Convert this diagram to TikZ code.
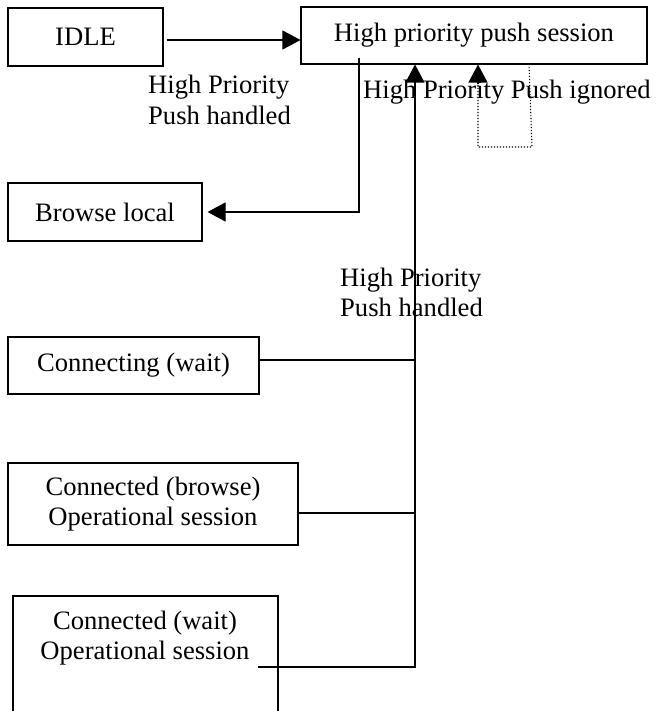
\documentclass[tikz,border=0pt]{standalone}
\usepackage{fontspec}
\setmainfont{Liberation Serif}
\usetikzlibrary{arrows.meta}
\begin{document}
\begin{tikzpicture}[x=1pt,y=-1pt,
  every node/.style={font=\fontsize{26.6pt}{30.5pt}\selectfont},
  state/.style={draw, line width=1.1pt, rectangle, inner sep=0pt, align=center},
  lbl/.style={inner sep=0pt, align=left, anchor=west},
  conn/.style={line width=1.1pt},
  arr/.style={conn, -{Triangle[length=18pt,width=19pt]}},
  dotline/.style={line width=1.1pt, dash pattern=on 1.1pt off 1.9pt},
]
\clip (0,0) rectangle (659,711);
\fill[white] (0,0) rectangle (659,711);
% states
\node[state, minimum width=155pt, minimum height=58pt] (idle) at (85.5,37) {IDLE};
\node[state, minimum width=346pt, minimum height=57pt] (hp) at (474,35.5) {High priority push session};
\node[state, minimum width=194pt, minimum height=58pt] (browse) at (105,212) {Browse local};
\node[state, minimum width=251pt, minimum height=57pt] (connecting) at (133.5,365.5) {Connecting (wait)};
\node[state, minimum width=290pt, minimum height=82pt] (cbrowse) at (153,504) {Connected (browse)\\Operational session};
\node[state, minimum width=265pt, minimum height=150pt] (cwait) at (145.5,671) {};
\node[inner sep=0pt, align=center] (cwaittext) at (145,638) {Connected (wait)\\Operational session};
% labels
\node[lbl] (lab1) at (148,100) {High Priority\\Push handled};
\node[lbl] (lab2) at (363,92) {High Priority Push ignored};
\node[lbl] (lab3) at (340,292.5) {High Priority\\Push handled};
% helper coordinates
\coordinate (trunk) at (415,0);
\coordinate (down) at (359,58);
\coordinate (cw) at (258,667);
\coordinate (loopL) at (478,147);
\coordinate (loopR) at (532,147);
\coordinate (loopTop) at (529,64);
% connectors
\draw[arr] ([yshift=-3pt]idle.east) ++(3pt,0) -- ([yshift=-3pt]idle.east -| hp.west);
\draw[arr] (down) |- ([xshift=5pt]browse.east);
\draw[conn] ([yshift=5.5pt]connecting.east) -- ([yshift=5.5pt]connecting.east -| trunk);
\draw[conn] ([yshift=-9pt]cbrowse.east) -- ([yshift=-9pt]cbrowse.east -| trunk);
\draw[arr] (cw) -| (trunk |- hp.south);
\draw[dotline] (loopTop) -- (loopR) -- (loopL) -- (loopL |- 0,84);
\draw[arr] (loopL |- 0,84) -- (loopL |- hp.south);
\end{tikzpicture}
\end{document}
